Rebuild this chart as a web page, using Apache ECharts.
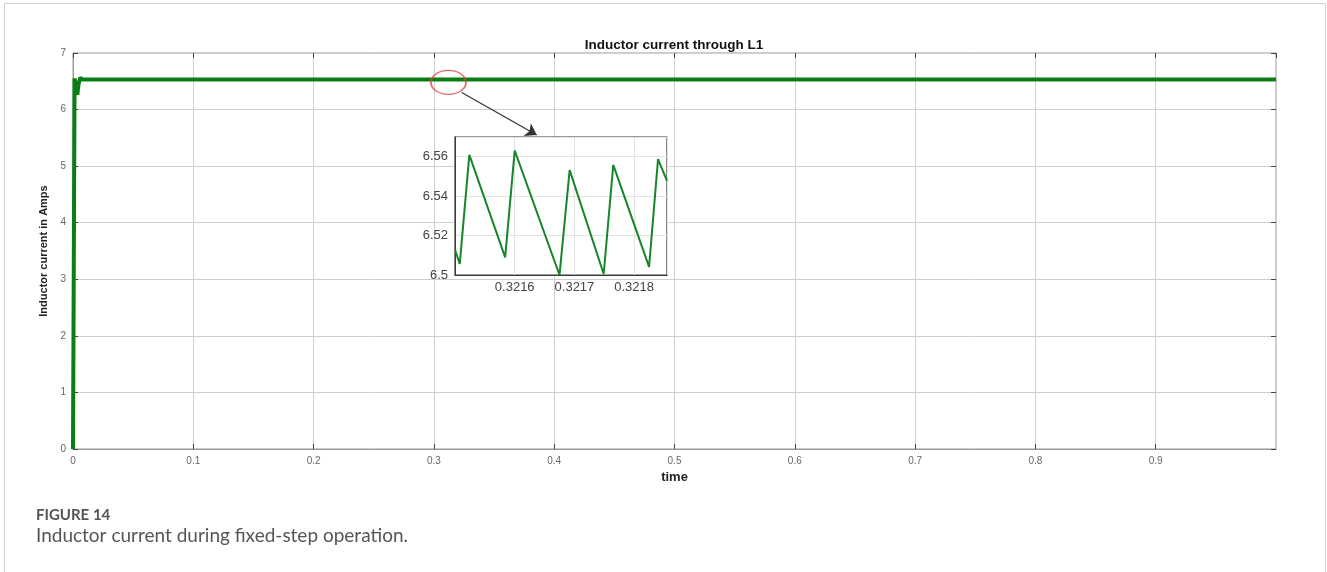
<!DOCTYPE html>
<html>
<head>
<meta charset="utf-8">
<script src="https://cdn.jsdelivr.net/npm/echarts@6/dist/echarts.min.js"></script>
<style>
html,body{margin:0;padding:0;background:#fff;}
#chart{width:1327px;height:572px;}
</style>
</head>
<body>
<div id="chart"></div>
<script>
// ---- data ----
const mainTime    = [0, 0.0008, 0.0013, 0.0022, 0.0036, 0.0046, 0.006, 0.008, 0.02, 0.5, 1.0];
const mainCurrent = [0, 4.0,    6.55,   6.55,   6.26,   6.45,   6.56,  6.53,  6.53, 6.53, 6.53];

const zoomTime    = [0.32150, 0.321508, 0.321524, 0.321584, 0.321600, 0.321675, 0.321692, 0.321749, 0.321765, 0.321825, 0.321840, 0.321855];
const zoomCurrent = [6.5128,  6.5056,   6.5609,   6.5089,   6.5631,   6.5000,   6.5532,   6.5005,   6.5559,   6.5041,   6.5588,   6.5477];

const titleText   = 'Inductor current through L1';
const xName       = 'time';
const yName       = 'Inductor current in Amps';
const figLabel    = 'FIGURE 14';
const figCaption  = 'Inductor current during fixed-step operation.';

// callout (in main-axis data units)
const calloutCenter = [0.3121, 6.48];
const arrowFrom     = [0.3231, 6.30];
const arrowTo       = [0.3855, 5.55];

// ---- chart ----
const chart = echarts.init(document.getElementById('chart'), null, {renderer:'canvas'});
const mainData = mainTime.map((t,i)=>[t, mainCurrent[i]]);
const zoomData = zoomTime.map((t,i)=>[t, zoomCurrent[i]]);
const FONT = 'Liberation Sans, Arial, sans-serif';
const CAPFONT = 'Lato, Open Sans, sans-serif';

const option = {
  animation:false,
  backgroundColor:'#fff',
  grid:[
    {left:73, top:53, right:51, bottom:123, show:true, borderColor:'#9a9a9a', borderWidth:1, containLabel:false},
    {left:455, top:137, width:212, height:138, show:true, borderColor:'#3a3a3a', borderWidth:1.2, backgroundColor:'#fff', z:10}
  ],
  xAxis:[
    {type:'value', gridIndex:0, min:0, max:1, interval:0.1,
     name:xName, nameLocation:'middle', nameGap:17,
     nameTextStyle:{fontFamily:FONT, fontWeight:'bold', fontSize:13, color:'#222'},
     axisLine:{show:true, onZero:false, lineStyle:{color:'#9a9a9a'}},
     axisTick:{show:true, inside:true, length:5, lineStyle:{color:'#444'}},
     axisLabel:{showMaxLabel:false, margin:7, fontFamily:FONT, fontSize:10, color:'#666',
       formatter:v=>String(parseFloat(v.toFixed(2)))},
     splitLine:{show:true, lineStyle:{color:'#cfcfcf', width:1}}},
    {type:'value', gridIndex:1, min:0.3215, max:0.321855, interval:0.0001, z:11,
     axisLine:{show:true, onZero:false, lineStyle:{color:'#3a3a3a'}},
     axisTick:{show:false},
     axisLabel:{showMinLabel:false, showMaxLabel:false, margin:6, fontFamily:FONT, fontSize:13, color:'#444',
       formatter:v=>v.toFixed(4)},
     splitLine:{show:true, lineStyle:{color:'#e2e2e2', width:1}}},
    {type:'value', gridIndex:0, position:'top', min:0, max:1, interval:0.1,
     axisLine:{show:false, onZero:false}, axisLabel:{show:false}, splitLine:{show:false},
     axisTick:{show:true, inside:true, length:5, lineStyle:{color:'#444'}}}
  ],
  yAxis:[
    {type:'value', gridIndex:0, min:0, max:7, interval:1,
     name:yName, nameLocation:'middle', nameGap:18, nameRotate:90,
     nameTextStyle:{fontFamily:FONT, fontWeight:'bold', fontSize:11, color:'#222'},
     axisLine:{show:true, onZero:false, lineStyle:{color:'#9a9a9a'}},
     axisTick:{show:true, inside:true, length:5, lineStyle:{color:'#444'}},
     axisLabel:{margin:7, fontFamily:FONT, fontSize:10, color:'#666'},
     splitLine:{show:true, lineStyle:{color:'#cfcfcf', width:1}}},
    {type:'value', gridIndex:1, min:6.5, max:6.57, interval:0.02, z:11,
     axisLine:{show:true, onZero:false, lineStyle:{color:'#3a3a3a'}},
     axisTick:{show:false},
     axisLabel:{showMaxLabel:false, margin:7, fontFamily:FONT, fontSize:13, color:'#444',
       formatter:v=>String(parseFloat(v.toFixed(2)))},
     splitLine:{show:true, lineStyle:{color:'#e2e2e2', width:1}}},
    {type:'value', gridIndex:0, position:'right', min:0, max:7, interval:1,
     axisLine:{show:false, onZero:false}, axisLabel:{show:false}, splitLine:{show:false},
     axisTick:{show:true, inside:true, length:5, lineStyle:{color:'#444'}}}
  ],
  series:[
    {type:'line', xAxisIndex:0, yAxisIndex:0, data:mainData, showSymbol:false, symbol:'none',
     lineStyle:{color:'#0a7d16', width:4}, z:2, silent:true},
    {type:'scatter', xAxisIndex:0, yAxisIndex:0, data:[calloutCenter], symbol:'circle', symbolSize:[35,24],
     itemStyle:{color:'rgba(0,0,0,0)', borderColor:'#e04040', borderWidth:1.5}, z:5, silent:true},
    {type:'lines', coordinateSystem:'cartesian2d', xAxisIndex:0, yAxisIndex:0,
     data:[{coords:[arrowFrom, arrowTo]}], symbol:['none','arrow'], symbolSize:[0,11],
     lineStyle:{color:'#333', width:1.2, opacity:1}, z:5, silent:true},
    {type:'line', xAxisIndex:1, yAxisIndex:1, data:zoomData, showSymbol:false, symbol:'none',
     lineStyle:{color:'#19852a', width:2}, z:12, silent:true}
  ],
  graphic:[
    {type:'rect', shape:{x:4.5, y:3.5, width:1321, height:600}, style:{fill:'none', stroke:'#cfcfcf', lineWidth:1}, silent:true, z:0},
    {type:'text', x:674, y:45, style:{text:titleText, fontFamily:FONT, fontWeight:'bold', fontSize:13.5, fill:'#111', textAlign:'center', textVerticalAlign:'middle'}},
    {type:'text', x:36, y:515, style:{text:figLabel, fontFamily:CAPFONT, fontWeight:'bold', fontSize:15, fill:'#555', textAlign:'left', textVerticalAlign:'middle'}},
    {type:'text', x:36, y:536, style:{text:figCaption, fontFamily:CAPFONT, fontSize:19, fill:'#555', textAlign:'left', textVerticalAlign:'middle'}}
  ]
};
chart.setOption(option);
</script>
</body>
</html>
